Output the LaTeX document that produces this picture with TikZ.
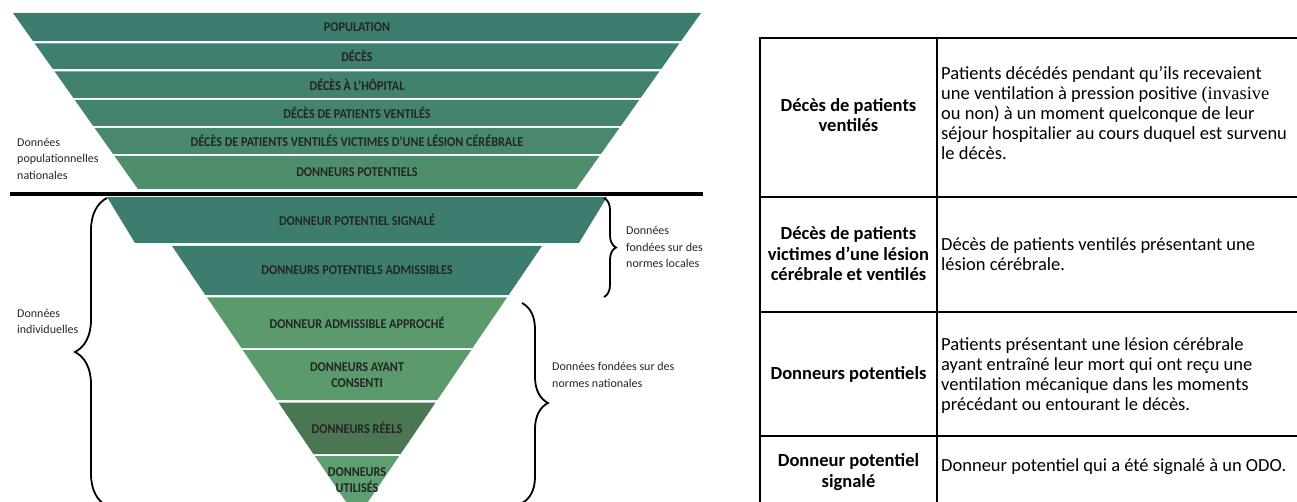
\documentclass[tikz,border=0pt]{standalone}
\usepackage{fontspec}
\setmainfont{Carlito}
\newfontfamily\bandfont[FakeStretch=0.9]{Carlito}
\newfontfamily\oddserif{Liberation Serif}
\usetikzlibrary{decorations.pathreplacing}
\definecolor{tealA}{RGB}{61,125,112}
\definecolor{tealB}{RGB}{63,127,111}
\definecolor{tealC}{RGB}{65,129,110}
\definecolor{tealD}{RGB}{68,132,110}
\definecolor{tealE}{RGB}{72,136,109}
\definecolor{tealF}{RGB}{79,142,108}
\definecolor{lightgreen}{RGB}{90,154,109}
\definecolor{darkgreen}{RGB}{74,119,82}
\definecolor{palegreen}{RGB}{94,158,112}
\definecolor{labelgray}{RGB}{34,38,36}
\tikzset{
  band/.style={fill=#1},
  bandlabel/.style={font=\bandfont\bfseries\fontsize{13.5}{15.5}\selectfont, text=labelgray, align=center, inner sep=0pt},
  sidelabel/.style={font=\fontsize{12}{16.5}\selectfont, text=black!85, align=left, anchor=west, inner sep=0pt},
  termcell/.style={font=\bfseries\fontsize{18.5}{20.5}\selectfont, align=center, inner sep=0pt},
  defcell/.style={font=\fontsize{18.5}{20}\selectfont, align=left, anchor=west, inner sep=0pt},
  rule/.style={line width=2pt},
  divider/.style={line width=3.2pt},
  bracket/.style={decorate, decoration={brace, amplitude=#1}, line width=1.8pt},
}

\begin{document}
\begin{tikzpicture}[x=1pt, y=-1pt]
  \clip (0,0) rectangle (1297,502);
  % funnel, national data
  \fill[band=tealA] (13,13) -- (701,13) -- (681.1,41) -- (32.9,41) -- cycle;
  \fill[band=tealB] (34.7,43.5) -- (679.3,43.5) -- (661.2,69) -- (52.8,69) -- cycle;
  \fill[band=tealC] (54.6,71.5) -- (659.4,71.5) -- (640.6,98) -- (73.4,98) -- cycle;
  \fill[band=tealD] (74.8,100) -- (639.2,100) -- (620.8,126) -- (93.2,126) -- cycle;
  \fill[band=tealE] (94.6,128) -- (619.4,128) -- (600.9,154) -- (113.1,154) -- cycle;
  \fill[band=tealF] (114.5,156) -- (599.5,156) -- (576.1,189) -- (137.9,189) -- cycle;
  % funnel, individual data
  \fill[band=tealA] (107,197) -- (607,197) -- (579,243) -- (135,243) -- cycle;
  \fill[band=tealA] (172,246) -- (542,246) -- (508.7,295) -- (205.3,295) -- cycle;
  \fill[band=lightgreen] (207,297.5) -- (507,297.5) -- (472.6,348) -- (241.4,348) -- cycle;
  \fill[band=lightgreen] (242.7,350) -- (471.3,350) -- (437.3,400) -- (276.7,400) -- cycle;
  \fill[band=darkgreen] (278.4,402.5) -- (435.6,402.5) -- (400.6,454) -- (313.4,454) -- cycle;
  \fill[band=palegreen] (314.8,456) -- (399.2,456) -- (357,518) -- cycle;

  \node[bandlabel] (population) at (357,27) {POPULATION};
  \node[bandlabel] (deces) at (357,56) {DÉCÈS};
  \node[bandlabel] (hopital) at (357,85) {DÉCÈS À L’HÔPITAL};
  \node[bandlabel] (ventiles) at (357,113) {DÉCÈS DE PATIENTS VENTILÉS};
  \node[bandlabel] (lesion) at (357,141) {DÉCÈS DE PATIENTS VENTILÉS VICTIMES D’UNE LÉSION CÉRÉBRALE};
  \node[bandlabel] (potentiels) at (357,172.5) {DONNEURS POTENTIELS};
  \node[bandlabel] (signale) at (357,220) {DONNEUR POTENTIEL SIGNALÉ};
  \node[bandlabel] (admissibles) at (357,270.5) {DONNEURS POTENTIELS ADMISSIBLES};
  \node[bandlabel] (approche) at (357,322.5) {DONNEUR ADMISSIBLE APPROCHÉ};
  \node[bandlabel] (consenti) at (357,375) {DONNEURS AYANT\\CONSENTI};
  \node[bandlabel] (reels) at (357,428) {DONNEURS RÉELS};
  \node[bandlabel] (utilises) at (357,480) {DONNEURS\\UTILISÉS};

  \draw[divider] (10,194) -- (703,194);

  % braces
  \coordinate (indtop) at (107,198);
  \coordinate (indbot) at (107,506);
  \coordinate (loctop) at (604,198);
  \coordinate (locbot) at (604,297);
  \coordinate (nattop) at (522,303);
  \coordinate (natbot) at (522,503);
  \draw[bracket=32] (indbot) -- (indtop);
  \draw[bracket=12] (loctop) -- (locbot);
  \draw[bracket=26] (nattop) -- (natbot);

  \node[sidelabel] (popnote) at (17,158.5) {Données\\populationnelles\\nationales};
  \node[sidelabel] (indnote) at (17,321.5) {Données\\individuelles};
  \node[sidelabel] (localnote) at (626,247) {Données\\fondées sur des\\normes locales};
  \node[sidelabel] (nationalnote) at (552,375) {Données fondées sur des\\normes nationales};

  % definitions table
  \draw[rule] (760,515) -- (760,38) -- (1310,38);
  \draw[rule] (937,38) -- (937,515);
  \draw[rule] (760,197) -- (1310,197);
  \draw[rule] (760,312) -- (1310,312);
  \draw[rule] (760,436) -- (1310,436);

  \node[termcell] (termventiles) at (848.5,115) {Décès de patients\\ventilés};
  \node[defcell] (defventiles) at (941,113) {Patients décédés pendant qu’ils recevaient\\une ventilation à pression positive {\oddserif(invasive}\\ou non) à un moment quelconque de leur\\séjour hospitalier au cours duquel est survenu\\le décès.};
  \node[termcell] (termlesion) at (848.5,254) {Décès de patients\\victimes d’une lésion\\cérébrale et ventilés};
  \node[defcell] (deflesion) at (941,254) {Décès de patients ventilés présentant une\\lésion cérébrale.};
  \node[termcell] (termpotentiels) at (848.5,374) {Donneurs potentiels};
  \node[defcell] (defpotentiels) at (941,376) {Patients présentant une lésion cérébrale\\ayant entraîné leur mort qui ont reçu une\\ventilation mécanique dans les moments\\précédant ou entourant le décès.};
  \node[termcell] (termsignale) at (848.5,472) {Donneur potentiel\\signalé};
  \node[defcell] (defsignale) at (941,467) {Donneur potentiel qui a été signalé à un ODO.};
\end{tikzpicture}
\end{document}
